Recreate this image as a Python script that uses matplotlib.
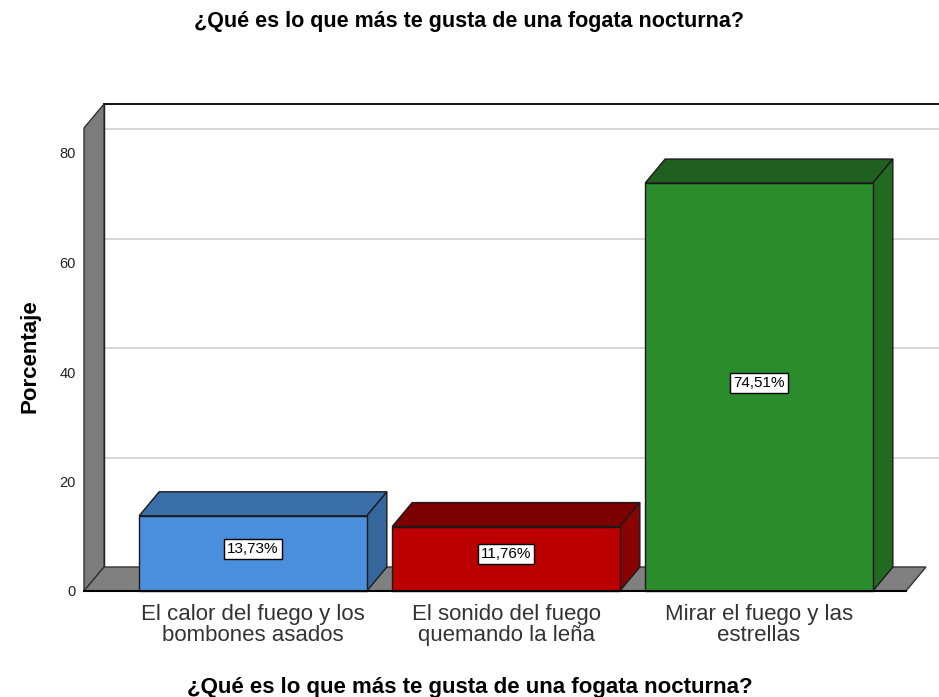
import numpy as np
import matplotlib.pyplot as plt
from matplotlib.patches import Polygon

plt.rcParams['font.family'] = ['Liberation Sans', 'DejaVu Sans']

# data
categories = ['El calor del fuego y los\nbombones asados',
              'El sonido del fuego\nquemando la leña',
              'Mirar el fuego y las\nestrellas']
percent = [13.73, 11.76, 74.51]
bar_labels = ['13,73%', '11,76%', '74,51%']
front_colors = ['#4a8fdc', '#bb0000', '#2a8c2a']
top_colors = ['#3a6ea8', '#7d0000', '#1f5f1f']
side_colors = ['#35679d', '#8a0303', '#226a22']
yticks = [0, 20, 40, 60, 80]
title = '¿Qué es lo que más te gusta de una fogata nocturna?'

fig = plt.figure(figsize=(9.39, 6.97), dpi=100)
# pixel layout: y=0 at 591px, 20 units = 109.5px; categories 253px apart
ax = fig.add_axes([84 / 939, 97 / 697, 855 / 939, 500 / 697])
ppu_y = 109.5 / 20
ppu_x = 253.0
ax.set_ylim(-9 / ppu_y, 491 / ppu_y)
x0 = (84 - 253) / ppu_x  # front-left corner of the wall
xend = (939 - 253) / ppu_x
ax.set_xlim(x0, xend)

dx = 20 / ppu_x          # depth offset
dy = 24 / ppu_y
xr = (906 - 253) / ppu_x
wall_top = (591 - 128) / ppu_y

# back wall
ax.add_patch(Polygon([(x0 + dx, dy), (xend + 1, dy), (xend + 1, wall_top + dy),
                      (x0 + dx, wall_top + dy)], closed=True,
                     facecolor='white', edgecolor='none', zorder=1))
for t in yticks[1:]:
    ax.plot([x0 + dx, xend], [t + dy, t + dy], color='#cfcfcf', lw=1.2, zorder=1.5)
ax.plot([x0 + dx, xend], [wall_top + dy, wall_top + dy], color='black', lw=1.3, zorder=2,
        clip_on=False)
ax.plot([x0 + dx, x0 + dx], [dy, wall_top + dy], color='black', lw=1.0, zorder=2)

# left wall
ax.add_patch(Polygon([(x0, 0), (x0, wall_top), (x0 + dx, wall_top + dy), (x0 + dx, dy)],
                     closed=True, facecolor='#7c7c7c', edgecolor='#333333', lw=1.0, zorder=2,
                     clip_on=False))
# floor
ax.add_patch(Polygon([(x0, 0), (xr, 0), (xr + dx, dy), (x0 + dx, dy)],
                     closed=True, facecolor='#808080', edgecolor='#333333', lw=1.0, zorder=2,
                     clip_on=False))

# bars
xpos = np.arange(len(categories))
w = 0.9
ax.bar(xpos, percent, width=w, color=front_colors, edgecolor='#1a1a1a', linewidth=1.0, zorder=4)
for i, v in enumerate(percent):
    l, r = xpos[i] - w / 2, xpos[i] + w / 2
    ax.add_patch(Polygon([(l, v), (r, v), (r + dx, v + dy), (l + dx, v + dy)], closed=True,
                         facecolor=top_colors[i], edgecolor='#1a1a1a', lw=1.0, zorder=3.5))
    ax.add_patch(Polygon([(r, 0), (r, v), (r + dx, v + dy), (r + dx, dy)], closed=True,
                         facecolor=side_colors[i], edgecolor='#1a1a1a', lw=1.0, zorder=3.5))
    ax.text(xpos[i], v / 2 + 0.8, bar_labels[i], ha='center', va='center', fontsize=11,
            color='black', zorder=6,
            bbox=dict(boxstyle='square,pad=0.2', facecolor='white', edgecolor='black', lw=1.0))

ax.plot([x0, xr], [0, 0], color='black', lw=1.5, zorder=5, clip_on=False)

for s in ax.spines.values():
    s.set_visible(False)
ax.set_yticks(yticks)
ax.set_yticklabels([str(t) for t in yticks], fontsize=10.5, color='#222222')
ax.tick_params(axis='y', length=0, pad=6)
ax.set_xticks(xpos)
ax.set_xticklabels(categories, fontsize=16, color='#333333', linespacing=1.0)
ax.tick_params(axis='x', length=0, pad=3)

fig.text(0.5, 1 - 22 / 697, title, ha='center', va='center', fontsize=15.5, fontweight='bold')
fig.text(0.5, 1 - 688 / 697, title, ha='center', va='center', fontsize=16, fontweight='bold')
fig.text(30 / 939, 1 - 356 / 697, 'Porcentaje', ha='center', va='center', rotation=90,
         fontsize=16, fontweight='bold')

fig.savefig('out.png', dpi=100)
